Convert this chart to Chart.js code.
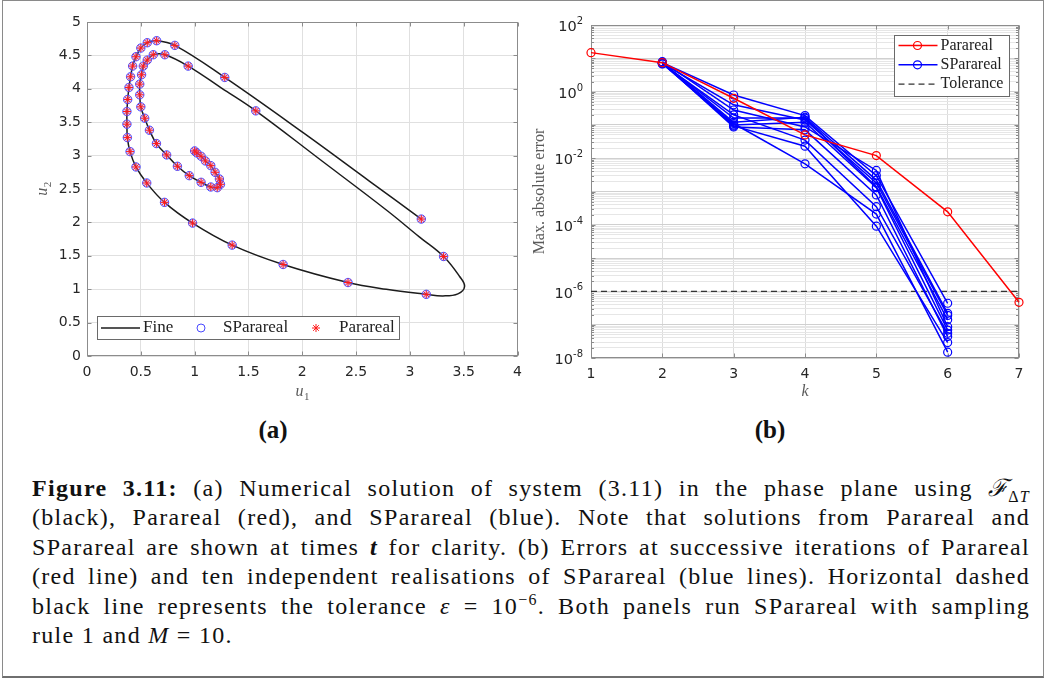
<!DOCTYPE html>
<html>
<head>
<meta charset="utf-8">
<script src="https://cdn.jsdelivr.net/npm/chart.js@4.4.1/dist/chart.umd.min.js"></script>
<style>
  html, body { margin: 0; padding: 0; background: #fff; }
  body { width: 1049px; height: 678px; position: relative; overflow: hidden; }
  #frame { position: absolute; left: 2px; top: 0; width: 1040px; height: 675px;
           border: 1px solid #8a8a8a; border-bottom: 2px solid #6f6f6f; }
  canvas { position: absolute; top: 0; }
  #phase { left: 0; }
  #errors { left: 520px; }
  .tag { position: absolute; top: 430px; transform: translate(-50%, -50%);
         font: bold 25px "Liberation Serif", serif; color: #111; }
  #caption { position: absolute; left: 32px; top: 474px; width: 998px;
             font: 24px/29.4px "Liberation Serif", serif; color: #111; letter-spacing: 1.3px; }
  #caption div { text-align: justify; text-align-last: justify; white-space: nowrap; }
  #caption div.last { text-align-last: left; }
  #caption sub, #caption sup { line-height: 0; font-size: 16px; }
  .cal { font-family: "DejaVu Serif", serif; font-style: italic; letter-spacing: 0; }
</style>
</head>
<body>
<div id="frame"></div>
<canvas id="phase" width="530" height="410"></canvas>
<canvas id="errors" width="529" height="410"></canvas>
<div class="tag" style="left:273px">(a)</div>
<div class="tag" style="left:770px">(b)</div>
<div id="caption">
  <div><b>Figure 3.11:</b> (a) Numerical solution of system (3.11) in the phase plane using <span class="cal">ℱ</span><sub>Δ<i>T</i></sub></div>
  <div>(black), Parareal (red), and SParareal (blue). Note that solutions from Parareal and</div>
  <div>SParareal are shown at times <b><i>t</i></b> for clarity. (b) Errors at successive iterations of Parareal</div>
  <div>(red line) and ten independent realisations of SParareal (blue lines). Horizontal dashed</div>
  <div>black line represents the tolerance <i>ε</i> = 10<sup>−6</sup>. Both panels run SParareal with sampling</div>
  <div class="last">rule 1 and <i>M</i> = 10.</div>
</div>
<script>
// ---- phase plane (a) ----
// fine trajectory, traced from the start near (1, 3) outwards
const fineU1 = [1.00, 1.02, 1.06, 1.10, 1.15, 1.19, 1.23, 1.24, 1.21, 1.15, 1.06, 0.95, 0.84, 0.74, 0.645,
  0.58, 0.536, 0.50, 0.49, 0.49, 0.507, 0.523, 0.56, 0.616, 0.723, 0.94, 1.25, 1.568, 2.162, 2.781,
  3.09, 3.313, 3.462, 3.508, 3.446, 3.307, 3.152, 2.781, 2.425, 1.822, 1.349, 0.981, 0.72, 0.555, 0.455,
  0.40, 0.375, 0.371, 0.371, 0.378, 0.39, 0.405, 0.424, 0.455, 0.50, 0.56, 0.647, 0.816, 1.28, 2.008,
  2.626, 3.106];
const fineU2 = [3.07, 3.04, 2.99, 2.92, 2.85, 2.75, 2.65, 2.57, 2.52, 2.53, 2.60, 2.70, 2.84, 3.01, 3.18,
  3.38, 3.56, 3.73, 3.91, 4.07, 4.21, 4.34, 4.43, 4.51, 4.51, 4.34, 4.01, 3.67, 2.945, 2.186,
  1.78, 1.49, 1.19, 1.04, 0.93, 0.90, 0.923, 0.998, 1.10, 1.37, 1.66, 1.99, 2.30, 2.59, 2.83,
  3.06, 3.27, 3.47, 3.66, 3.84, 4.02, 4.18, 4.34, 4.48, 4.61, 4.69, 4.72, 4.65, 4.17, 3.343,
  2.615, 2.05];

// Parareal / SParareal solutions at the coarse times t (the two coincide)
const solU1 = [1.00, 1.02, 1.06, 1.10, 1.15, 1.19, 1.23, 1.24, 1.21, 1.15, 1.06, 0.95, 0.84, 0.74, 0.645,
  0.58, 0.536, 0.50, 0.49, 0.49, 0.507, 0.523, 0.56, 0.616, 0.723, 0.94, 1.568, 3.313, 3.152, 2.425,
  1.822, 1.349, 0.981, 0.72, 0.555, 0.455, 0.40, 0.375, 0.371, 0.371, 0.378, 0.39, 0.405, 0.424, 0.455,
  0.50, 0.56, 0.647, 0.816, 1.28, 3.106];
const solU2 = [3.07, 3.04, 2.99, 2.92, 2.85, 2.75, 2.65, 2.57, 2.52, 2.53, 2.60, 2.70, 2.84, 3.01, 3.18,
  3.38, 3.56, 3.73, 3.91, 4.07, 4.21, 4.34, 4.43, 4.51, 4.51, 4.34, 3.67, 1.49, 0.923, 1.10,
  1.37, 1.66, 1.99, 2.30, 2.59, 2.83, 3.06, 3.27, 3.47, 3.66, 3.84, 4.02, 4.18, 4.34, 4.48,
  4.61, 4.69, 4.72, 4.65, 4.17, 2.05];

const u1Ticks = [0, 0.5, 1, 1.5, 2, 2.5, 3, 3.5, 4];
const u2Ticks = [0, 0.5, 1, 1.5, 2, 2.5, 3, 3.5, 4, 4.5, 5];

// ---- errors per iteration (b) ----
const iterations = [1, 2, 3, 4, 5, 6, 7];
const pararealErr = [14.8, 7.4, 0.63, 0.05, 0.012, 2.45e-4, 4.7e-7];
const spararealIters = [2, 3, 4, 5, 6];
const spararealErr = [
  [7.4, 0.79, 0.19, 3.0e-3, 4.4e-7],
  [7.1, 0.40, 0.14, 1.8e-3, 1.9e-7],
  [7.9, 0.28, 0.087, 4.3e-3, 8.7e-8],
  [6.8, 0.20, 0.035, 3.5e-4, 5.5e-8],
  [7.2, 0.16, 0.16, 1.4e-3, 1.4e-7],
  [7.6, 0.12, 0.17, 2.2e-3, 2.2e-7],
  [6.9, 0.10, 0.12, 1.3e-3, 6.9e-8],
  [7.4, 0.087, 0.071, 7.9e-4, 4.4e-8],
  [7.1, 0.11, 0.0068, 2.1e-4, 1.5e-8],
  [7.2, 0.093, 0.023, 9.1e-5, 2.9e-8]
];
const tolerance = 1e-6;
const kTicks = [1, 2, 3, 4, 5, 6, 7];
const errLabelExps = [2, 0, -2, -4, -6, -8];
const errDecades = [-8, -7, -6, -5, -4, -3, -2, -1, 0, 1];

const TICK_FONT = '"DejaVu Sans", sans-serif';
const SERIF = '"Liberation Serif", serif';

function pairs(xs, ys) {
  return xs.map((x, i) => ({ x: x, y: ys[i] }));
}

function isDecade(v) {
  const e = Math.log10(v);
  return Math.abs(e - Math.round(e)) < 1e-9;
}

// log ticks at 1..9 x 10^n, plus the top decade
const errTickValues = [];
errDecades.forEach(e => {
  for (let m = 1; m <= 9; m++) errTickValues.push(m * Math.pow(10, e));
});
errTickValues.push(100);

// italic label with an optional subscript, centred on (x, y)
function drawMathLabel(ctx, base, sub, x, y, size, rotate) {
  ctx.save();
  ctx.translate(x, y);
  if (rotate) ctx.rotate(-Math.PI / 2);
  ctx.fillStyle = '#5a5a5a';
  ctx.textBaseline = 'middle';
  ctx.textAlign = 'left';
  ctx.font = 'italic ' + size + 'px ' + SERIF;
  const bw = ctx.measureText(base).width;
  ctx.font = Math.round(size * 0.7) + 'px ' + SERIF;
  const sw = sub ? ctx.measureText(sub).width : 0;
  const x0 = -(bw + sw) / 2;
  ctx.font = 'italic ' + size + 'px ' + SERIF;
  ctx.fillText(base, x0, 0);
  if (sub) {
    ctx.font = Math.round(size * 0.7) + 'px ' + SERIF;
    ctx.fillText(sub, x0 + bw + 0.5, size * 0.3);
  }
  ctx.restore();
}

// axes box with inward tick marks, MATLAB style
const axesBox = {
  id: 'axesBox',
  beforeDatasetsDraw(chart, args, opts) {
    const { ctx, chartArea: a, scales: { x, y } } = chart;
    const L = Math.round(a.left) + 0.5, R = Math.round(a.right) - 0.5;
    const T = Math.round(a.top) + 0.5, B = Math.round(a.bottom) - 0.5;
    ctx.save();
    ctx.strokeStyle = opts.color;
    ctx.lineWidth = 1;
    ctx.beginPath();
    x.ticks.forEach(t => {
      const px = Math.round(x.getPixelForValue(t.value)) + 0.5;
      ctx.moveTo(px, B); ctx.lineTo(px, B - 4);
      ctx.moveTo(px, T); ctx.lineTo(px, T + 4);
    });
    y.ticks.forEach(t => {
      const len = opts.logMinor && !isDecade(t.value) ? 2.5 : 4;
      const py = Math.round(y.getPixelForValue(t.value)) + 0.5;
      ctx.moveTo(L, py); ctx.lineTo(L + len, py);
      ctx.moveTo(R, py); ctx.lineTo(R - len, py);
    });
    ctx.stroke();
    ctx.strokeRect(L, T, R - L, B - T);
    ctx.restore();
  }
};

// axis titles and legend of the phase plane
const phaseDecor = {
  id: 'phaseDecor',
  afterDraw(chart) {
    const ctx = chart.ctx;
    const a = chart.chartArea;
    drawMathLabel(ctx, 'u', '1', (a.left + a.right) / 2, 392, 16, false);
    drawMathLabel(ctx, 'u', '2', 43, (a.top + a.bottom) / 2, 16, true);

    const ds = chart.data.datasets;
    const fine = ds.find(d => d.label === 'Fine');
    const sp = ds.find(d => d.label === 'SParareal');
    const pa = ds.find(d => d.label === 'Parareal');
    const box = { x: 97.5, y: 316.5, w: 302, h: 23 };
    const cy = box.y + box.h / 2;
    ctx.save();
    ctx.fillStyle = '#fff';
    ctx.fillRect(box.x, box.y, box.w, box.h);
    ctx.strokeStyle = '#6a6a6a';
    ctx.lineWidth = 1;
    ctx.strokeRect(box.x, box.y, box.w, box.h);

    ctx.strokeStyle = fine.borderColor;
    ctx.lineWidth = fine.borderWidth;
    ctx.beginPath();
    ctx.moveTo(101, cy); ctx.lineTo(140, cy);
    ctx.stroke();
    ctx.strokeStyle = sp.borderColor;
    ctx.lineWidth = 1;
    ctx.beginPath(); ctx.arc(201, cy, 4, 0, Math.PI * 2); ctx.stroke();
    ctx.strokeStyle = pa.borderColor;
    Chart.helpers.drawPoint(ctx, { pointStyle: 'star', radius: 4, borderWidth: 1 }, 316, cy);

    ctx.fillStyle = '#222';
    ctx.font = '17px ' + SERIF;
    ctx.textBaseline = 'middle';
    ctx.textAlign = 'left';
    ctx.fillText('Fine', 143, cy);
    ctx.fillText('SParareal', 223, cy);
    ctx.fillText('Parareal', 339, cy);
    ctx.restore();
  }
};

// 10^n labels, axis titles and legend of the error plot
const errorDecor = {
  id: 'errorDecor',
  afterDraw(chart) {
    const ctx = chart.ctx;
    const a = chart.chartArea;
    const y = chart.scales.y;
    ctx.save();
    ctx.fillStyle = '#262626';
    ctx.textBaseline = 'middle';
    ctx.textAlign = 'right';
    errLabelExps.forEach(e => {
      const py = y.getPixelForValue(Math.pow(10, e));
      const exp = String(e);
      ctx.font = '10px ' + TICK_FONT;
      const ew = ctx.measureText(exp).width;
      const right = a.left - 8;
      ctx.fillText(exp, right, py - 3.5);
      ctx.font = '14.5px ' + TICK_FONT;
      ctx.fillText('10', right - ew, py + 2.5);
    });
    ctx.restore();

    drawMathLabel(ctx, 'k', '', (a.left + a.right) / 2, 392, 16, false);
    ctx.save();
    ctx.translate(20, (a.top + a.bottom) / 2);
    ctx.rotate(-Math.PI / 2);
    ctx.fillStyle = '#5a5a5a';
    ctx.font = '16px ' + SERIF;
    ctx.textAlign = 'center';
    ctx.textBaseline = 'middle';
    ctx.fillText('Max. absolute error', 0, 0);
    ctx.restore();

    // legend
    const ds = chart.data.datasets;
    const entries = [
      ds.find(d => d.label === 'Parareal'),
      ds.find(d => d.label === 'SParareal'),
      ds.find(d => d.label === 'Tolerance')
    ];
    const box = { x: 374.5, y: 35.5, w: 115, h: 61 };
    ctx.save();
    ctx.fillStyle = '#fff';
    ctx.fillRect(box.x, box.y, box.w, box.h);
    ctx.strokeStyle = '#6a6a6a';
    ctx.lineWidth = 1;
    ctx.strokeRect(box.x, box.y, box.w, box.h);
    entries.forEach((d, i) => {
      const ly = box.y + 10 + i * 19.3;
      ctx.strokeStyle = d.borderColor;
      ctx.lineWidth = d.borderWidth;
      ctx.setLineDash(d.borderDash || []);
      ctx.beginPath();
      ctx.moveTo(box.x + 4, ly); ctx.lineTo(box.x + 43, ly);
      ctx.stroke();
      ctx.setLineDash([]);
      if (d.pointRadius > 0) {
        ctx.lineWidth = 1.2;
        ctx.beginPath(); ctx.arc(box.x + 23, ly, 4, 0, Math.PI * 2); ctx.stroke();
      }
      ctx.fillStyle = '#222';
      ctx.font = '16px ' + SERIF;
      ctx.textAlign = 'left';
      ctx.textBaseline = 'middle';
      ctx.fillText(d.label, box.x + 46, ly);
    });
    ctx.restore();
  }
};

const gridLight = '#e0e0e0';
const axisColor = '#8c8c8c';

new Chart(document.getElementById('phase'), {
  type: 'scatter',
  data: {
    datasets: [
      {
        label: 'Parareal',
        data: pairs(solU1, solU2),
        pointStyle: 'star',
        pointRadius: 4,
        pointBorderWidth: 1,
        borderColor: '#ff1a1a',
        order: 1
      },
      {
        label: 'SParareal',
        data: pairs(solU1, solU2),
        pointStyle: 'circle',
        pointRadius: 4.2,
        pointBorderWidth: 1,
        borderColor: '#4a4aff',
        backgroundColor: 'rgba(170, 150, 255, 0.45)',
        order: 2
      },
      {
        label: 'Fine',
        data: pairs(fineU1, fineU2),
        showLine: true,
        tension: 0.4,
        borderColor: '#1c1c1c',
        borderWidth: 1.5,
        pointRadius: 0,
        order: 3
      }
    ]
  },
  options: {
    responsive: false,
    devicePixelRatio: 1,
    animation: false,
    events: [],
    layout: { padding: { left: 0, right: 12, top: 22, bottom: 10 } },
    scales: {
      x: {
        type: 'linear',
        min: 0,
        max: 4,
        afterBuildTicks: s => { s.ticks = u1Ticks.map(v => ({ value: v })); },
        afterFit: s => { s.height = 44; },
        grid: { color: gridLight, drawTicks: false },
        border: { display: false },
        ticks: { padding: 8, color: '#262626', font: { family: TICK_FONT, size: 14 }, callback: v => String(v) }
      },
      y: {
        type: 'linear',
        min: 0,
        max: 5,
        afterBuildTicks: s => { s.ticks = u2Ticks.map(v => ({ value: v })); },
        afterFit: s => { s.width = 87; },
        grid: { color: gridLight, drawTicks: false },
        border: { display: false },
        ticks: { padding: 6, color: '#262626', font: { family: TICK_FONT, size: 14 }, callback: v => String(v) }
      }
    },
    plugins: {
      legend: { display: false },
      tooltip: { enabled: false },
      axesBox: { color: axisColor }
    }
  },
  plugins: [axesBox, phaseDecor]
});

const errorDatasets = [
  {
    label: 'Parareal',
    data: pairs(iterations, pararealErr),
    borderColor: '#ff0000',
    borderWidth: 1.5,
    pointRadius: 4,
    pointBorderWidth: 1.2,
    backgroundColor: 'transparent',
    clip: false,
    order: 0
  }
];
spararealErr.forEach((row, r) => {
  errorDatasets.push({
    label: r === 0 ? 'SParareal' : 'SParareal ' + (r + 1),
    data: pairs(spararealIters, row),
    borderColor: '#0000ff',
    borderWidth: 1.5,
    pointRadius: 4,
    pointBorderWidth: 1.2,
    backgroundColor: 'transparent',
    clip: false,
    order: 1
  });
});
errorDatasets.push({
  label: 'Tolerance',
  data: pairs([kTicks[0], kTicks[kTicks.length - 1]], [tolerance, tolerance]),
  borderColor: '#333333',
  borderWidth: 1.3,
  borderDash: [6, 4],
  pointRadius: 0,
  order: 2
});

new Chart(document.getElementById('errors'), {
  type: 'line',
  data: { datasets: errorDatasets },
  options: {
    responsive: false,
    devicePixelRatio: 1,
    animation: false,
    events: [],
    layout: { padding: { left: 0, right: 30, top: 25, bottom: 8 } },
    scales: {
      x: {
        type: 'linear',
        min: 1,
        max: 7,
        afterBuildTicks: s => { s.ticks = kTicks.map(v => ({ value: v })); },
        afterFit: s => { s.height = 44; },
        grid: { color: '#dcdcdc', drawTicks: false },
        border: { display: false },
        ticks: { padding: 8, color: '#262626', font: { family: TICK_FONT, size: 14 }, callback: v => String(v) }
      },
      y: {
        type: 'logarithmic',
        min: 1e-8,
        max: 100,
        afterBuildTicks: s => { s.ticks = errTickValues.map(v => ({ value: v })); },
        afterFit: s => { s.width = 71; },
        grid: {
          color: c => (c.tick && isDecade(c.tick.value)) ? '#d0d0d0' : '#e6e6e6',
          drawTicks: false
        },
        border: { display: false },
        ticks: { display: false }
      }
    },
    plugins: {
      legend: { display: false },
      tooltip: { enabled: false },
      axesBox: { color: axisColor, logMinor: true }
    }
  },
  plugins: [axesBox, errorDecor]
});
</script>
</body>
</html>
